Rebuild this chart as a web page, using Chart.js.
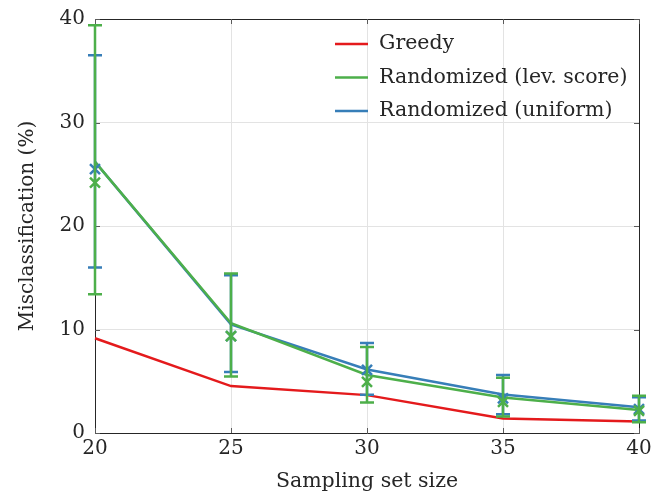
<!DOCTYPE html>
<html><head><meta charset="utf-8">
<script src="https://cdn.jsdelivr.net/npm/chart.js@4/dist/chart.umd.min.js"></script>
<style>html,body{margin:0;padding:0;background:#fff}#wrap{width:665px;height:494px}</style>
</head><body><div id="wrap"><canvas id="c" width="665" height="494"></canvas></div>
<script>
const sizes = [20, 25, 30, 35, 40];
const xTicks = [20, 25, 30, 35, 40];
const yTicks = [0, 10, 20, 30, 40];
const greedy = [9.15, 4.53, 3.66, 1.4, 1.1];
const levLine = [26.2, 10.6, 5.6, 3.44, 2.22];
const uniLine = [26.2, 10.5, 6.14, 3.73, 2.48];
const levMean = [24.2, 9.35, 4.95, 3.0, 2.15];
const levLow = [13.4, 5.45, 2.95, 1.6, 1.05];
const levHigh = [39.4, 15.4, 8.3, 5.35, 3.6];
const uniMean = [25.5, 9.35, 6.1, 3.35, 2.3];
const uniLow = [16.0, 5.9, 3.7, 1.8, 1.2];
const uniHigh = [36.5, 15.25, 8.7, 5.6, 3.45];
const labels = ['Greedy', 'Randomized (lev. score)', 'Randomized (uniform)'];
const colors = ['#e41a1c', '#4daf4a', '#377eb8'];

const FONT = '"DejaVu Serif", serif';
const pts = a => a.map((v, i) => ({x: sizes[i], y: v}));

const errPlugin = {
  id: 'errs',
  afterDatasetsDraw(chart) {
    const ctx = chart.ctx, xs = chart.scales.x, ys = chart.scales.y;
    const sets = [[uniMean, uniLow, uniHigh, colors[2]], [levMean, levLow, levHigh, colors[1]]];
    ctx.save();
    ctx.lineWidth = 2.5;
    for (const [m, lo, hi, col] of sets) {
      ctx.strokeStyle = col;
      for (let i = 0; i < sizes.length; i++) {
        const px = xs.getPixelForValue(sizes[i]);
        const a = ys.getPixelForValue(lo[i]), b = ys.getPixelForValue(hi[i]);
        ctx.beginPath();
        ctx.moveTo(px, a); ctx.lineTo(px, b);
        ctx.moveTo(px - 7, a); ctx.lineTo(px + 7, a);
        ctx.moveTo(px - 7, b); ctx.lineTo(px + 7, b);
        const my = ys.getPixelForValue(m[i]);
        ctx.moveTo(px - 5, my - 5); ctx.lineTo(px + 5, my + 5);
        ctx.moveTo(px - 5, my + 5); ctx.lineTo(px + 5, my - 5);
        ctx.stroke();
      }
    }
    ctx.restore();
  }
};

const framePlugin = {
  id: 'frame',
  beforeDatasetsDraw(chart) {
    const ctx = chart.ctx, a = chart.chartArea, xs = chart.scales.x, ys = chart.scales.y;
    ctx.save();
    ctx.strokeStyle = '#262626';
    ctx.lineWidth = 1;
    ctx.beginPath();
    ctx.moveTo(a.left + 0.5, a.top + 0.5);
    ctx.lineTo(a.right + 0.5, a.top + 0.5);
    ctx.lineTo(a.right + 0.5, a.bottom + 0.5);
    ctx.lineTo(a.left + 0.5, a.bottom + 0.5);
    ctx.closePath();
    ctx.stroke();
    ctx.strokeStyle = '#5a5a5a';
    ctx.beginPath();
    for (const t of xTicks) {
      const px = Math.round(xs.getPixelForValue(t)) + 0.5;
      ctx.moveTo(px, a.bottom); ctx.lineTo(px, a.bottom - 5);
      ctx.moveTo(px, a.top); ctx.lineTo(px, a.top + 5);
    }
    for (const t of yTicks) {
      const py = Math.round(ys.getPixelForValue(t)) + 0.5;
      ctx.moveTo(a.left, py); ctx.lineTo(a.left + 5, py);
      ctx.moveTo(a.right, py); ctx.lineTo(a.right - 5, py);
    }
    ctx.stroke();
    ctx.restore();
  },
  afterDraw(chart) {
    const ctx = chart.ctx;
    ctx.save();
    ctx.font = '20.5px ' + FONT;
    ctx.fillStyle = '#262626';
    ctx.textBaseline = 'middle';
    const x0 = 335, y0 = 44, dy = 33.5;
    for (let i = 0; i < 3; i++) {
      const y = y0 + i * dy;
      ctx.strokeStyle = colors[i];
      ctx.lineWidth = 2.5;
      ctx.beginPath(); ctx.moveTo(x0, y); ctx.lineTo(x0 + 33, y); ctx.stroke();
      ctx.fillText(labels[i], x0 + 44, y);
    }
    ctx.restore();
  }
};

new Chart(document.getElementById('c'), {
  type: 'line',
  data: {
    datasets: [
      {label: labels[2], data: pts(uniLine), borderColor: colors[2], order: 3},
      {label: labels[1], data: pts(levLine), borderColor: colors[1], order: 2},
      {label: labels[0], data: pts(greedy), borderColor: colors[0], order: 1}
    ]
  },
  options: {
    responsive: false,
    animation: false,
    devicePixelRatio: 1,
    layout: {padding: {top: 19, right: 26, left: 0, bottom: 0}},
    elements: {
      line: {borderWidth: 2.5, tension: 0},
      point: {radius: 0, hoverRadius: 0}
    },
    datasets: {line: {clip: false}},
    plugins: {legend: {display: false}, tooltip: {enabled: false}},
    scales: {
      x: {
        type: 'linear', min: 20, max: 40,
        afterBuildTicks: s => { s.ticks = xTicks.map(v => ({value: v})); },
        afterFit: s => { s.height = 61; s.paddingLeft = 0; s.paddingRight = 0; },
        grid: {color: '#e3e3e3', drawTicks: false},
        border: {display: false},
        ticks: {font: {family: FONT, size: 20}, color: '#262626', padding: 4, maxRotation: 0},
        title: {display: true, text: 'Sampling set size', font: {family: FONT, size: 20.5}, color: '#262626', padding: {top: 1, bottom: 0}}
      },
      y: {
        type: 'linear', min: 0, max: 40,
        afterBuildTicks: s => { s.ticks = yTicks.map(v => ({value: v})); },
        afterFit: s => { s.width = 95; s.paddingTop = 0; s.paddingBottom = 0; },
        grid: {color: '#e3e3e3', drawTicks: false},
        border: {display: false},
        ticks: {font: {family: FONT, size: 20}, color: '#262626', padding: 10},
        title: {display: true, text: 'Misclassification (%)', font: {family: FONT, size: 20}, color: '#262626', padding: {top: 16, bottom: 0}}
      }
    }
  },
  plugins: [framePlugin, errPlugin]
});
</script></body></html>
